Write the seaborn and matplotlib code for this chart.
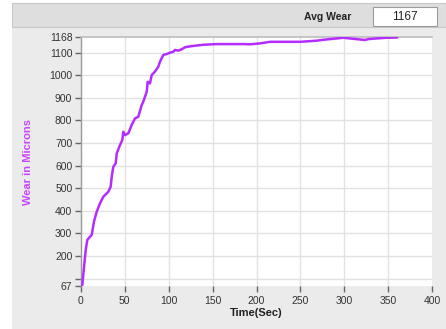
import matplotlib
matplotlib.use("Agg")
import matplotlib.pyplot as plt
from matplotlib.patches import Rectangle
import seaborn as sns
import pandas as pd

# Wear measurement over time
time_sec = [0, 1.8, 3.8, 5.7, 7.5, 10.6, 12.5, 15.1, 18.2, 22.0, 25.7, 31.4, 34.1,
            35.3, 37.1, 39.8, 41.0, 44.7, 47.3, 48.5, 50.4, 54.2, 58.0, 61.8, 65.5,
            69.4, 71.2, 75.1, 76.2, 78.8, 80.8, 84.5, 88.3, 90.2, 94.0, 97.8, 101.6,
            105.3, 107.3, 111.0, 114.9, 118.7, 126.3, 139.5, 154.7, 169.9, 185.0,
            192.6, 204.0, 215.4, 230.5, 249.5, 268.5, 276.0, 291.2, 298.7, 323.4,
            327.2, 336.7, 348.1, 360.0]
wear_microns = [67, 71, 152, 226, 271, 285, 293, 352, 396, 433, 462, 484, 507,
                551, 595, 610, 654, 691, 713, 750, 735, 743, 780, 809, 816,
                868, 883, 927, 971, 964, 1001, 1016, 1038, 1060, 1090, 1094, 1100,
                1104, 1112, 1109, 1115, 1124, 1129, 1135, 1138, 1138, 1138,
                1137, 1141, 1148, 1148, 1148, 1153, 1157, 1163, 1166, 1156,
                1160, 1163, 1166, 1167]
avg_wear = 1167

y_ticks = [67, 100, 200, 300, 400, 500, 600, 700, 800, 900, 1000, 1100, 1168]
y_tick_labels = ["67", "", "200", "300", "400", "500", "600", "700", "800", "900",
                 "1000", "1100", "1168"]
x_ticks = [0, 50, 100, 150, 200, 250, 300, 350, 400]
grid_y = [100, 200, 300, 400, 500, 600, 700, 800, 900, 1000, 1100]
grid_x = [50, 100, 150, 200, 250, 300, 350]

df = pd.DataFrame({"Time(Sec)": time_sec, "Wear": wear_microns})

sns.set_theme(style="white")
plt.rcParams["font.family"] = ["Liberation Sans", "DejaVu Sans"]

W, H = 446, 329
fig = plt.figure(figsize=(W / 100, H / 100), dpi=100)
fig.patch.set_facecolor("white")

# panel background and header strip
fig.patches.append(Rectangle((12 / W, 0), 1 - 12 / W, 1 - 3 / H,
                             transform=fig.transFigure, facecolor="#ebebeb",
                             edgecolor="none", zorder=-10))
fig.patches.append(Rectangle((12 / W, 1 - 27 / H), 1 - 12 / W, 24 / H,
                             transform=fig.transFigure, facecolor="#dedede",
                             edgecolor="#c8c8c8", linewidth=0.8, zorder=-9))
fig.patches.append(Rectangle((373 / W, 1 - 26 / H), 64 / W, 19 / H,
                             transform=fig.transFigure, facecolor="white",
                             edgecolor="#9a9a9a", linewidth=0.8, zorder=-8))
fig.text(351 / W, 1 - 17 / H, "Avg Wear", ha="right", va="center",
         fontsize=7.5, fontweight="bold", color="#222222")
fig.text(405 / W, 1 - 16.5 / H, str(avg_wear), ha="center", va="center",
         fontsize=8.5, color="#222222")

ax = fig.add_axes([80.7 / W, 1 - 286 / H, (432.3 - 80.7) / W, (286 - 37.3) / H])
ax.set_facecolor("white")

for gy in grid_y:
    ax.axhline(gy, color="#e2e2e2", linewidth=1.0, zorder=0)
for gx in grid_x:
    ax.axvline(gx, color="#e2e2e2", linewidth=1.0, zorder=0)

sns.lineplot(data=df, x="Time(Sec)", y="Wear", ax=ax, color="#b52cff",
             linewidth=1.8, zorder=3)

ax.set_xlim(0, 400)
ax.set_ylim(67, 1168)
ax.set_xticks(x_ticks)
ax.set_xticklabels([str(t) for t in x_ticks])
ax.set_yticks(y_ticks)
ax.set_yticklabels(y_tick_labels)
ax.tick_params(axis="both", which="both", direction="out", length=4,
               width=1, color="#666666", labelsize=7.5, labelcolor="#333333",
               pad=2, bottom=True, left=True)
ax.tick_params(axis="x", length=4, pad=3)

for side in ["right", "bottom"]:
    ax.spines[side].set_visible(False)
ax.spines["left"].set_color("#9a9a9a")
ax.spines["left"].set_linewidth(1.0)
ax.spines["top"].set_color("#bdbdbd")
ax.spines["top"].set_linewidth(1.2)

ax.set_xlabel("Time(Sec)", fontsize=8, fontweight="bold", color="#222222",
              labelpad=2)
ax.set_ylabel("Wear in Microns", fontsize=8, fontweight="bold",
              color="#cc44ff", labelpad=12)

fig.savefig("out.png", dpi=100, facecolor=fig.get_facecolor())
